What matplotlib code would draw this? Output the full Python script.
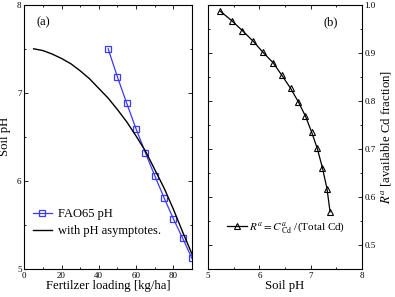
import matplotlib
matplotlib.use('Agg')
import matplotlib.pyplot as plt
from matplotlib.ticker import MultipleLocator

plt.rcParams['font.family'] = ['Liberation Serif', 'DejaVu Serif']
plt.rcParams['mathtext.fontset'] = 'stix'

# panel (a): pH vs fertilizer loading
fao_load = [45, 50, 55, 60, 65, 70, 75, 80, 85, 90]
fao_ph = [7.50, 7.18, 6.88, 6.59, 6.32, 6.06, 5.81, 5.57, 5.35, 5.12]

asym_load = [5, 10, 15, 20, 25, 30, 35, 40, 45, 50, 55, 60, 65, 70, 75, 80, 85, 90]
asym_ph = [7.50, 7.48, 7.44, 7.39, 7.33, 7.25, 7.16, 7.05, 6.94, 6.81,
           6.67, 6.51, 6.34, 6.13, 5.92, 5.68, 5.42, 5.17]

# panel (b): available Cd fraction vs soil pH
soil_ph = [5.23, 5.46, 5.67, 5.88, 6.07, 6.27, 6.44, 6.61, 6.76, 6.90,
           7.02, 7.13, 7.23, 7.32, 7.38]
r_avail = [0.987, 0.967, 0.946, 0.924, 0.901, 0.879, 0.853, 0.826, 0.798,
           0.768, 0.735, 0.701, 0.661, 0.617, 0.569]

fig = plt.figure(figsize=(3.95, 2.97), dpi=100)
ax1 = fig.add_axes([0.0615, 0.0943, 0.4245, 0.8897])
ax2 = fig.add_axes([0.527, 0.0943, 0.389, 0.8897])

blue = '#3a3aff'
ax1.plot(fao_load, fao_ph, '-s', color=blue, lw=0.9, ms=4.3,
         mfc='none', mec=blue, mew=0.9, label='FAO65 pH')
ax1.plot(asym_load, asym_ph, '-', color='black', lw=1.0,
         label='with pH asymptotes.')
ax1.set_xlim(0, 90)
ax1.set_ylim(5, 8)
ax1.xaxis.set_major_locator(MultipleLocator(20))
ax1.xaxis.set_minor_locator(MultipleLocator(10))
ax1.yaxis.set_major_locator(MultipleLocator(1))
ax1.yaxis.set_minor_locator(MultipleLocator(0.5))
ax1.set_xlabel('Fertilzer loading [kg/ha]', fontsize=9.2, labelpad=0)
ax1.set_ylabel('Soil pH', fontsize=9.2, labelpad=4)
ax1.text(0.07, 0.934, '(a)', transform=ax1.transAxes, fontsize=9, va='center')
ax1.legend(loc='center left', bbox_to_anchor=(0.052, 0.176), frameon=False,
           fontsize=9, borderpad=0, borderaxespad=0, handlelength=1.5,
           handletextpad=0.5, labelspacing=0.4)

ax2.plot(soil_ph, r_avail, '-^', color='black', lw=0.9, ms=4.5,
         mfc='none', mec='black', mew=0.8,
         label=r'$R^a = C^{\,a}_{\ \rm Cd}$ /(Total Cd)')
ax2.set_xlim(5, 8)
ax2.set_ylim(0.45, 1)
ax2.xaxis.set_major_locator(MultipleLocator(1))
ax2.xaxis.set_minor_locator(MultipleLocator(0.5))
ax2.yaxis.set_major_locator(MultipleLocator(0.1))
ax2.yaxis.set_minor_locator(MultipleLocator(0.05))
ax2.yaxis.set_label_position('right')
ax2.set_xlabel('Soil pH', fontsize=9.2, labelpad=0)
ax2.set_ylabel(r'$R^a$ [available Cd fraction]', fontsize=9.2, labelpad=2)
ax2.text(0.748, 0.934, '(b)', transform=ax2.transAxes, fontsize=9, va='center')
ax2.legend(loc='center left', bbox_to_anchor=(0.12, 0.156), frameon=False,
           fontsize=8, borderpad=0, borderaxespad=0, handlelength=1.8,
           handletextpad=0.2)

for ax in (ax1, ax2):
    ax.tick_params(which='both', direction='in', top=True, right=True,
                   labelsize=6.5, pad=2, width=0.6)
    ax.tick_params(which='major', length=3)
    ax.tick_params(which='minor', length=1.6)
    for s in ax.spines.values():
        s.set_linewidth(0.8)
ax2.tick_params(which='both', labelleft=False, labelright=True)

fig.savefig('out.png', dpi=100)
